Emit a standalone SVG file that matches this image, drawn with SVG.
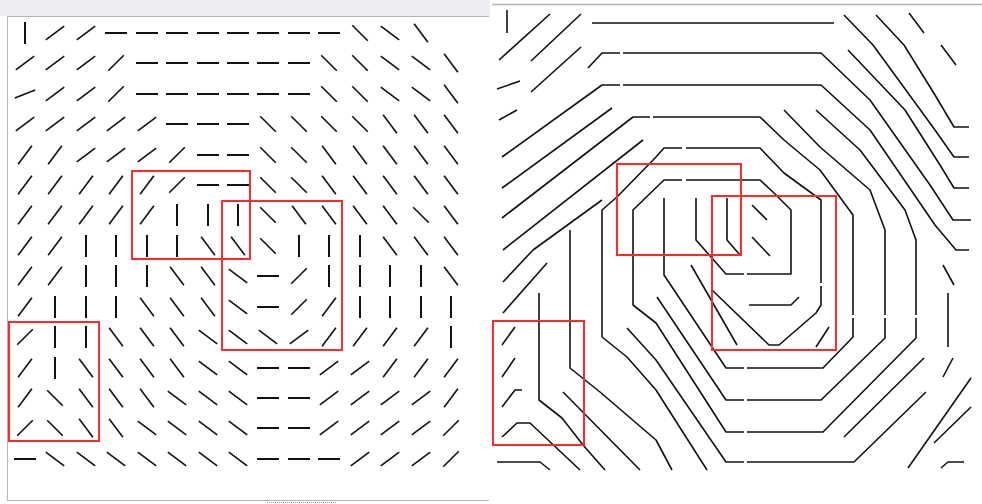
<svg xmlns="http://www.w3.org/2000/svg" xmlns:xlink="http://www.w3.org/1999/xlink" width="982" height="504" viewBox="0 0 982 504">
<style>
.frame{fill:none;stroke:#b4b4b8;stroke-width:1}
.red{fill:none;stroke:#ff2a2a;stroke-width:2}
.sl{fill:none;stroke:#111;stroke-width:1.6;stroke-linejoin:round}
</style>
<defs>
<line id="h" x1="-11" y1="0" x2="11" y2="0" stroke-width="2"/>
<line id="v" x1="0" y1="-11" x2="0" y2="11" stroke-width="2"/>
<line id="fz" x1="-10.2" y1="4.1" x2="10.2" y2="-4.1"/>
<line id="fa" x1="-9.2" y1="6.9" x2="9.2" y2="-6.9"/>
<line id="fb" x1="-7.8" y1="7.8" x2="7.8" y2="-7.8"/>
<line id="fc" x1="-6.9" y1="9.2" x2="6.9" y2="-9.2"/>
<line id="ba" x1="-9.2" y1="-6.9" x2="9.2" y2="6.9"/>
<line id="bb" x1="-7.8" y1="-7.8" x2="7.8" y2="7.8"/>
<line id="bc" x1="-6.9" y1="-9.2" x2="6.9" y2="9.2"/>
</defs>
<rect width="982" height="504" fill="#fff"/>
<g id="left-panel">
<rect x="0" y="0" width="490" height="16" fill="#ececf1"/>
<line class="frame" x1="7" y1="16.5" x2="489" y2="16.5" stroke="#a0a0a4"/>
<line class="frame" x1="7.5" y1="16" x2="7.5" y2="500"/>
<line class="frame" x1="7" y1="500.5" x2="489" y2="500.5"/>
<line x1="267" y1="502.5" x2="337" y2="502.5" stroke="#9a9aa0" stroke-width="1" stroke-dasharray="1 1"/>
<g id="field" stroke="#111" stroke-width="1.6">
<use href="#v" x="25" y="33"/><use href="#fa" x="55" y="33"/><use href="#fa" x="86" y="33"/><use href="#h" x="116" y="33"/><use href="#h" x="147" y="33"/><use href="#h" x="177" y="33"/><use href="#h" x="208" y="33"/><use href="#h" x="238" y="33"/><use href="#h" x="268" y="33"/><use href="#h" x="299" y="33"/><use href="#h" x="329" y="33"/><use href="#bb" x="360" y="33"/><use href="#ba" x="390" y="33"/><use href="#bc" x="421" y="33"/>
<use href="#fa" x="25" y="63"/><use href="#fa" x="55" y="63"/><use href="#fa" x="86" y="63"/><use href="#fb" x="116" y="63"/><use href="#h" x="147" y="63"/><use href="#h" x="177" y="63"/><use href="#h" x="208" y="63"/><use href="#h" x="238" y="63"/><use href="#h" x="268" y="63"/><use href="#h" x="299" y="63"/><use href="#bb" x="329" y="63"/><use href="#bb" x="360" y="63"/><use href="#ba" x="390" y="63"/><use href="#ba" x="421" y="63"/><use href="#bc" x="451" y="63"/>
<use href="#fz" x="25" y="94"/><use href="#fa" x="55" y="94"/><use href="#fa" x="86" y="94"/><use href="#fb" x="116" y="94"/><use href="#h" x="147" y="94"/><use href="#h" x="177" y="94"/><use href="#h" x="208" y="94"/><use href="#h" x="238" y="94"/><use href="#h" x="268" y="94"/><use href="#h" x="299" y="94"/><use href="#bb" x="329" y="94"/><use href="#bb" x="360" y="94"/><use href="#ba" x="390" y="94"/><use href="#ba" x="421" y="94"/><use href="#bc" x="451" y="94"/>
<use href="#fa" x="25" y="124"/><use href="#fa" x="55" y="124"/><use href="#fa" x="86" y="124"/><use href="#fa" x="116" y="124"/><use href="#fa" x="147" y="124"/><use href="#h" x="177" y="124"/><use href="#h" x="208" y="124"/><use href="#h" x="238" y="124"/><use href="#bb" x="268" y="124"/><use href="#bb" x="299" y="124"/><use href="#bb" x="329" y="124"/><use href="#bb" x="360" y="124"/><use href="#bc" x="390" y="124"/><use href="#bc" x="421" y="124"/><use href="#bc" x="451" y="124"/>
<use href="#fc" x="25" y="155"/><use href="#fc" x="55" y="155"/><use href="#fa" x="86" y="155"/><use href="#fa" x="116" y="155"/><use href="#fa" x="147" y="155"/><use href="#fb" x="177" y="155"/><use href="#h" x="208" y="155"/><use href="#h" x="238" y="155"/><use href="#bb" x="268" y="155"/><use href="#bb" x="299" y="155"/><use href="#bc" x="329" y="155"/><use href="#bc" x="360" y="155"/><use href="#bc" x="390" y="155"/><use href="#bc" x="421" y="155"/><use href="#bc" x="451" y="155"/>
<use href="#fc" x="25" y="185"/><use href="#fc" x="55" y="185"/><use href="#fc" x="86" y="185"/><use href="#fc" x="116" y="185"/><use href="#fc" x="147" y="185"/><use href="#fb" x="177" y="185"/><use href="#h" x="208" y="185"/><use href="#h" x="238" y="185"/><use href="#bb" x="268" y="185"/><use href="#bb" x="299" y="185"/><use href="#bc" x="329" y="185"/><use href="#bc" x="360" y="185"/><use href="#bc" x="390" y="185"/><use href="#bc" x="421" y="185"/><use href="#bc" x="451" y="185"/>
<use href="#fc" x="25" y="215"/><use href="#fc" x="55" y="215"/><use href="#fc" x="86" y="215"/><use href="#fc" x="116" y="215"/><use href="#fc" x="147" y="215"/><use href="#v" x="177" y="215"/><use href="#v" x="208" y="215"/><use href="#v" x="238" y="215"/><use href="#bb" x="268" y="215"/><use href="#bc" x="299" y="215"/><use href="#bc" x="329" y="215"/><use href="#bc" x="360" y="215"/><use href="#bc" x="390" y="215"/><use href="#bb" x="421" y="215"/><use href="#bc" x="451" y="215"/>
<use href="#fc" x="25" y="246"/><use href="#fc" x="55" y="246"/><use href="#v" x="86" y="246"/><use href="#v" x="116" y="246"/><use href="#v" x="147" y="246"/><use href="#v" x="177" y="246"/><use href="#bc" x="208" y="246"/><use href="#bc" x="238" y="246"/><use href="#bb" x="268" y="246"/><use href="#v" x="299" y="246"/><use href="#v" x="329" y="246"/><use href="#v" x="360" y="246"/><use href="#bc" x="390" y="246"/><use href="#bc" x="421" y="246"/><use href="#bc" x="451" y="246"/>
<use href="#fc" x="25" y="276"/><use href="#fc" x="55" y="276"/><use href="#v" x="86" y="276"/><use href="#v" x="116" y="276"/><use href="#v" x="147" y="276"/><use href="#bc" x="177" y="276"/><use href="#bc" x="208" y="276"/><use href="#ba" x="238" y="276"/><use href="#h" x="268" y="276"/><use href="#fb" x="299" y="276"/><use href="#v" x="329" y="276"/><use href="#v" x="360" y="276"/><use href="#v" x="390" y="276"/><use href="#v" x="421" y="276"/><use href="#bc" x="451" y="276"/>
<use href="#fc" x="25" y="307"/><use href="#v" x="55" y="307"/><use href="#v" x="86" y="307"/><use href="#v" x="116" y="307"/><use href="#bc" x="147" y="307"/><use href="#bc" x="177" y="307"/><use href="#bc" x="208" y="307"/><use href="#ba" x="238" y="307"/><use href="#h" x="268" y="307"/><use href="#fb" x="299" y="307"/><use href="#fc" x="329" y="307"/><use href="#v" x="360" y="307"/><use href="#v" x="390" y="307"/><use href="#v" x="421" y="307"/><use href="#v" x="451" y="307"/>
<use href="#fb" x="25" y="337"/><use href="#v" x="55" y="337"/><use href="#v" x="86" y="337"/><use href="#bc" x="116" y="337"/><use href="#bc" x="147" y="337"/><use href="#bc" x="177" y="337"/><use href="#ba" x="208" y="337"/><use href="#ba" x="238" y="337"/><use href="#ba" x="268" y="337"/><use href="#fa" x="299" y="337"/><use href="#fc" x="329" y="337"/><use href="#fc" x="360" y="337"/><use href="#fc" x="390" y="337"/><use href="#fc" x="421" y="337"/><use href="#v" x="451" y="337"/>
<use href="#fc" x="25" y="368"/><use href="#v" x="55" y="368"/><use href="#bc" x="86" y="368"/><use href="#bc" x="116" y="368"/><use href="#bc" x="147" y="368"/><use href="#bc" x="177" y="368"/><use href="#ba" x="208" y="368"/><use href="#ba" x="238" y="368"/><use href="#h" x="268" y="368"/><use href="#h" x="299" y="368"/><use href="#fa" x="329" y="368"/><use href="#fa" x="360" y="368"/><use href="#fc" x="390" y="368"/><use href="#fc" x="421" y="368"/><use href="#fc" x="451" y="368"/>
<use href="#fc" x="25" y="398"/><use href="#bb" x="55" y="398"/><use href="#bc" x="86" y="398"/><use href="#bc" x="116" y="398"/><use href="#bc" x="147" y="398"/><use href="#ba" x="177" y="398"/><use href="#ba" x="208" y="398"/><use href="#ba" x="238" y="398"/><use href="#h" x="268" y="398"/><use href="#h" x="299" y="398"/><use href="#fa" x="329" y="398"/><use href="#fa" x="360" y="398"/><use href="#fa" x="390" y="398"/><use href="#fa" x="421" y="398"/><use href="#fc" x="451" y="398"/>
<use href="#fb" x="25" y="428"/><use href="#bb" x="55" y="428"/><use href="#bc" x="86" y="428"/><use href="#bc" x="116" y="428"/><use href="#ba" x="147" y="428"/><use href="#ba" x="177" y="428"/><use href="#ba" x="208" y="428"/><use href="#ba" x="238" y="428"/><use href="#h" x="268" y="428"/><use href="#h" x="299" y="428"/><use href="#fa" x="329" y="428"/><use href="#fa" x="360" y="428"/><use href="#fa" x="390" y="428"/><use href="#fa" x="421" y="428"/><use href="#fb" x="451" y="428"/>
<use href="#h" x="25" y="459"/><use href="#ba" x="55" y="459"/><use href="#ba" x="86" y="459"/><use href="#ba" x="116" y="459"/><use href="#ba" x="147" y="459"/><use href="#ba" x="177" y="459"/><use href="#ba" x="208" y="459"/><use href="#ba" x="238" y="459"/><use href="#h" x="268" y="459"/><use href="#h" x="299" y="459"/><use href="#h" x="329" y="459"/><use href="#fa" x="360" y="459"/><use href="#fa" x="390" y="459"/><use href="#fa" x="421" y="459"/><use href="#fb" x="451" y="459"/>
</g>
<rect class="red" x="132" y="171" width="118" height="88"/>
<rect class="red" x="222" y="201" width="120" height="149"/>
<rect class="red" x="9" y="322" width="90" height="119"/>
</g>
<g id="right-panel">
<line x1="492" y1="4.5" x2="982" y2="4.5" stroke="#b4b4b8" stroke-width="1.5"/>
<g id="streamlines" class="sl">
<path d="M507,10V33"/>
<path d="M499,60L550,14"/>
<path d="M531,61L581,14"/>
<path d="M592,23H834"/>
<path d="M497,89L520,81"/>
<path d="M531,92L581,47"/>
<path d="M499,120L517,110"/>
<path d="M502,188L612,108"/>
<path d="M503,250L643,140"/>
<path d="M533,250L602,200"/>
<path d="M876,15L904,45L935,95L954,127H969"/>
<path d="M844,15L873,45L935,130L954,157H969"/>
<path d="M848,50L905,110L940,165L954,188H969"/>
<path d="M909,13L924,33"/>
<path d="M941,45L956,65"/>
<path d="M588,68L602,53H620M623,53H821L870,100L930,185L953,220H971"/>
<path d="M502,157L602,85H620M623,85H821L870,130L935,225L956,250H969"/>
<path d="M784,110L820,147L870,190L885,230V315M885,318V338L821,400H747M744,400H726L657,297"/>
<path d="M502,218L633,117H650M653,117H760L784,140L820,170L853,215V315M853,318V337L823,368H747M744,368H726L664,275V198"/>
<path d="M602,337V210L617,197L656,157L664,148H682M686,148H760L784,173L821,200V283M821,286V305L816,313L779,345H769L712,290"/>
<path d="M696,198V240L711,257L726,274H744M747,274H791V210L774,193L760,180H686M682,180H664L633,210V305L656,323L726,432H744M747,432H823L916,338V318M916,315V240L905,210L860,150L816,110"/>
<path d="M727,198V240L740,255"/>
<path d="M752,205L767,220"/>
<path d="M752,237L770,256"/>
<path d="M749,305H791L799,297"/>
<path d="M691,265L737,345"/>
<path d="M829,327L816,347"/>
<path d="M539,293V400L562,418L583,445L605,470"/>
<path d="M563,392L640,470"/>
<path d="M570,230V368L600,392L656,440L672,470"/>
<path d="M602,337L627,357L656,390L707,470"/>
<path d="M627,328L656,360L726,462H744M747,462H854L926,392"/>
<path d="M502,437L517,423H530L580,470"/>
<path d="M497,462H540L550,470"/>
<path d="M503,282L533,250"/>
<path d="M503,313L547,263"/>
<path d="M502,345L515,327"/>
<path d="M502,377L515,358"/>
<path d="M502,407L515,390H522"/>
<path d="M924,358L844,437"/>
<path d="M971,378L908,468"/>
<path d="M971,407L934,443"/>
<path d="M953,358L943,377"/>
<path d="M964,462H948L941,468"/>
<path d="M943,265L954,285"/>
<path d="M948,293V347"/>
</g>
<rect class="red" x="617" y="164" width="124" height="91"/>
<rect class="red" x="712" y="196" width="124" height="154"/>
<rect class="red" x="493" y="321" width="91" height="124"/>
</g>
</svg>
